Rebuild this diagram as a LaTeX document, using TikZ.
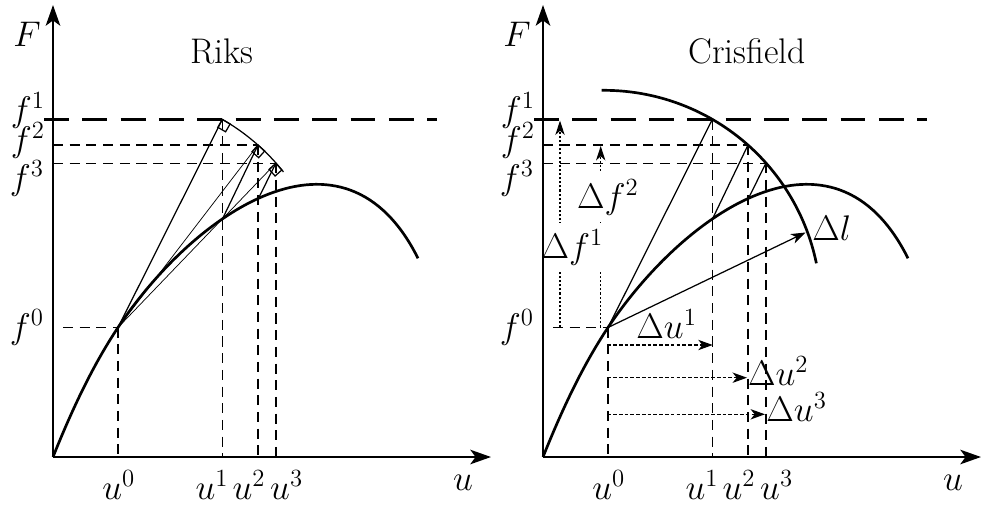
\documentclass[tikz,border=0pt]{standalone}
\usetikzlibrary{arrows.meta}
\newcommand{\drawpanel}[1]{%
  \coordinate (#1O) at (53,457);
  \coordinate (#1Ytop) at (53,5);
  \coordinate (#1Xend) at (491,457);
  \coordinate (#1F0) at (118,327.5);
  \coordinate (#1P1) at (222.3,119.5);
  \coordinate (#1P2) at (258,145);
  \coordinate (#1P3) at (275.8,163.3);
  \coordinate (#1C1) at (222.3,219.3);
  \coordinate (#1C2) at (258,199.3);
  \coordinate (#1Cend) at (418,258.3);
  \coordinate (#1F1a) at (44,119.5);
  \coordinate (#1F1b) at (437,119.5);
  \coordinate (#1F2a) at (53,145);
  \coordinate (#1F3a) at (53,163.3);
  \coordinate (#1F0a) at (63,327.5);
  % load-displacement curve
  \draw[curvestyle] (#1O) .. controls (75,402) and (96,360.5) .. (#1F0)
        .. controls (195,212) and (343.8,109.8) .. (#1Cend);
  % dashed guides
  \draw[thickdash] (#1F1a) -- (#1F1b);
  \draw[thindash] (#1F2a) -- (#1P2);
  \draw[thindash] (#1F3a) -- (#1P3);
  \draw[thindash] (#1F0a) -- (#1F0);
  \draw[thindash] (#1F0) -- (#1F0 |- #1O);
  \draw[thindash] (#1P1) -- (#1P1 |- #1O);
  \draw[thindash] (#1P2) -- (#1P2 |- #1O);
  \draw[thindash] (#1P3) -- (#1P3 |- #1O);
  % iteration lines
  \draw[thinline] (#1F0) -- (#1P1);
  \draw[thinline] (#1C1) -- (#1P2);
  \draw[thinline] (#1C2) -- (#1P3);
  % labels
  \node[lbl] (#1Flab) at (27,46.7) {$F$};
  \node[lbl] (#1f1lab) at (28,121.4) {$f^1$};
  \node[lbl] (#1f2lab) at (28,151.4) {$f^2$};
  \node[lbl] (#1f3lab) at (27,189) {$f^3$};
  \node[lbl] (#1f0lab) at (27,338) {$f^0$};
  \node[lbl] (#1u0lab) at (118.8,499.3) {$u^0$};
  \node[lbl] (#1u1lab) at (212,499.3) {$u^1$};
  \node[lbl] (#1u2lab) at (249,499.3) {$u^2$};
  \node[lbl] (#1u3lab) at (286.7,499.3) {$u^3$};
  \node[lbl] (#1ulab) at (463,490) {$u$};
}
\begin{document}
\begin{tikzpicture}[x=0.4854pt,y=-0.4854pt,
  every node/.style={font=\LARGE, inner sep=0pt},
  lbl/.style={anchor=base},
  axisline/.style={line width=1.3pt,-{Stealth[length=10pt,width=7pt,inset=2.5pt]}},
  curvestyle/.style={line width=1.3pt},
  thinline/.style={line width=0.6pt},
  hairline/.style={line width=0.35pt},
  thickdash/.style={line width=1.45pt, dash pattern=on 12.1pt off 6.5pt},
  thindash/.style={line width=0.75pt, dash pattern=on 4.9pt off 3.2pt},
  dotarrow/.style={line width=0.7pt, dash pattern=on 1pt off 1pt, -{Stealth[length=7pt,width=4.5pt,inset=2pt]}},
  dasharrow/.style={line width=0.65pt, dash pattern=on 1.8pt off 1pt, -{Stealth[length=7pt,width=5pt,inset=2pt]}},
  solidarrow/.style={line width=0.6pt, -{Stealth[length=7pt,width=5pt,inset=2pt]}},
  whitelbl/.style={anchor=base, fill=white, inner xsep=0.5pt, inner ysep=3pt},
]
\useasboundingbox (0,0) rectangle (983,505);

% ---------------- Riks (left) ----------------
\begin{scope}
  \drawpanel{L}
  \node[lbl] (Ltitle) at (222,63.3) {Riks};
  % corrector arc
  \draw[thinline] plot[domain=38.6:60.1, samples=30] ({113.9+217*cos(\x)},{307.3-217*sin(\x)});
  % secant lines from f0
  \draw[hairline] (LF0) -- (LP2);
  \draw[hairline] (LF0) -- (LP3);
  % right-angle markers
  \draw[thinline] (LP1) -- ++(7.8,4.5) -- ++(-4.5,7.8) -- ++(-7.8,-4.5) -- cycle;
  \draw[thinline] (LP2) -- ++(6.7,6.0) -- ++(-6.0,6.7) -- ++(-6.7,-6.0) -- cycle;
  \draw[thinline] (LP3) -- ++(6.0,6.7) -- ++(-6.7,6.0) -- ++(-6.0,-6.7) -- cycle;
  \draw[axisline] (LO) -- (LYtop);
  \draw[axisline] (LO) -- (LXend);
\end{scope}

% ---------------- Crisfield (right) ----------------
\begin{scope}[shift={(490,0)}]
  \drawpanel{R}
  \node[lbl] (Rtitle) at (257.2,63.3) {Crisfield};
  % constraint circle
  \draw[curvestyle] plot[domain=11.7:90.6, samples=60] ({113.9+217*cos(\x)},{307.3-217*sin(\x)});
  % Delta l
  \coordinate (RDl) at (315.5,232.5);
  \draw[solidarrow] (RF0) -- (RDl);
  \node[lbl] (RDllab) at (341.7,240.7) {$\Delta l$};
  % Delta f arrows
  \coordinate (Rdf1s) at (70,327.5);
  \coordinate (Rdf1e) at (70,120.5);
  \coordinate (Rdf2s) at (110.7,327.5);
  \coordinate (Rdf2e) at (110.7,146);
  \draw[dotarrow] (Rdf1s) -- (Rdf1e);
  \draw[dotarrow] (Rdf2s) -- (Rdf2e);
  \node[whitelbl] (Rdf1lab) at (82.5,258.3) {$\Delta f^1$};
  \node[whitelbl] (Rdf2lab) at (118,208.3) {$\Delta f^2$};
  % Delta u arrows
  \coordinate (Rdu1s) at (117.3,345);
  \coordinate (Rdu1e) at (222.7,345);
  \coordinate (Rdu2s) at (117.3,377.7);
  \coordinate (Rdu2e) at (257,377.7);
  \coordinate (Rdu3s) at (117.3,414.3);
  \coordinate (Rdu3e) at (275,414.3);
  \draw[dasharrow] (Rdu1s) -- (Rdu1e);
  \draw[dasharrow] (Rdu2s) -- (Rdu2e);
  \draw[dasharrow] (Rdu3s) -- (Rdu3e);
  \node[lbl] (Rdu1lab) at (176.7,338.3) {$\Delta u^1$};
  \node[lbl] (Rdu2lab) at (288.3,385) {$\Delta u^2$};
  \node[lbl] (Rdu3lab) at (306.7,421) {$\Delta u^3$};
  \draw[axisline] (RO) -- (RYtop);
  \draw[axisline] (RO) -- (RXend);
\end{scope}
\end{tikzpicture}
\end{document}
